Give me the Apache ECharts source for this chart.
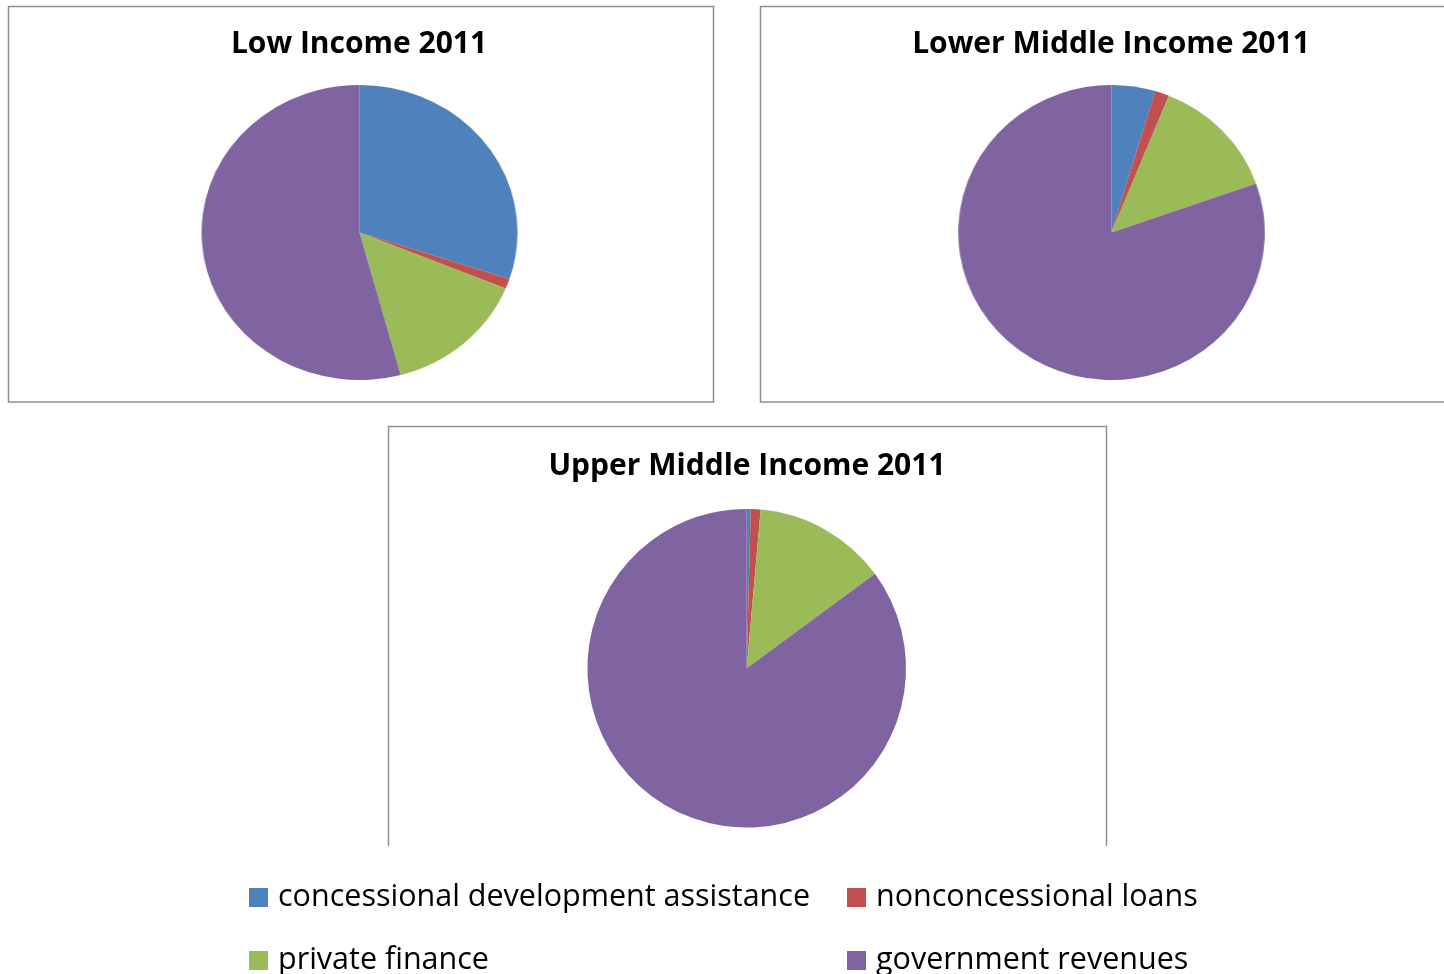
<!DOCTYPE html>
<html>
<head>
<meta charset="utf-8">
<script src="https://cdn.jsdelivr.net/npm/echarts@6/dist/echarts.min.js"></script>
<style>
  html, body { margin: 0; padding: 0; background: #fff; }
  #main { position: absolute; left: 0; top: 0; width: 1444px; height: 974px; }
  .pie { position: absolute; pointer-events: none; }
</style>
</head>
<body>
<div id="main"></div>
<div id="pieLow" class="pie"></div>
<div id="pieLowerMid" class="pie"></div>

<script>
// Sources of development finance, share of total (%), 2011
const categories = [
  'concessional development assistance',
  'nonconcessional loans',
  'private finance',
  'government revenues'
];
const lowIncome = [30.1, 1.1, 14.6, 54.2];
const lowerMiddleIncome = [4.6, 1.5, 13.5, 80.4];
const upperMiddleIncome = [0.4, 1.0, 13.5, 85.1];
const panelTitles = ['Low Income 2011', 'Lower Middle Income 2011', 'Upper Middle Income 2011'];

const palette = ['#4F81BD', '#C0504D', '#9BBB59', '#8064A2'];
const FONT = '"Open Sans", Lato, sans-serif';
const FRAME = '#8f8f8f';

function pieData(values) {
  return categories.map((name, i) => ({ name: name, value: values[i] }));
}

function pieSeries(values, center, radius) {
  return {
    type: 'pie',
    center: center,
    radius: radius,
    startAngle: 90,
    clockwise: true,
    silent: true,
    animation: false,
    label: { show: false },
    labelLine: { show: false },
    itemStyle: { borderWidth: 0 },
    data: pieData(values)
  };
}

// Place a standalone pie in its own layer; the frame stretches it a little wider than tall
function placePie(id, cx, cy, ry, rx, values) {
  const size = Math.ceil(ry * 2 + 8);
  const el = document.getElementById(id);
  el.style.width = size + 'px';
  el.style.height = size + 'px';
  el.style.left = (cx - size / 2) + 'px';
  el.style.top = (cy - size / 2) + 'px';
  el.style.transform = 'scaleX(' + (rx / ry) + ')';
  el.style.transformOrigin = '50% 50%';
  const c = echarts.init(el, null, { renderer: 'canvas' });
  c.setOption({ color: palette, series: [pieSeries(values, ['50%', '50%'], ry)] });
}

placePie('pieLow', 359.7, 232.7, 147.5, 158, lowIncome);
placePie('pieLowerMid', 1111, 232.7, 147.5, 153.3, lowerMiddleIncome);

const legendPos = [
  { left: 249, top: 882 },
  { left: 847, top: 882 },
  { left: 249, top: 945 },
  { left: 847, top: 945 }
];

const main = echarts.init(document.getElementById('main'), null, { renderer: 'canvas' });
main.setOption({
  color: palette,
  animation: false,
  title: [
    { text: panelTitles[0], left: 359, top: 28, textAlign: 'center' },
    { text: panelTitles[1], left: 1111, top: 28, textAlign: 'center' },
    { text: panelTitles[2], left: 747, top: 450, textAlign: 'center' }
  ].map(t => Object.assign(t, {
    padding: 0,
    textStyle: { fontFamily: FONT, fontWeight: 'bold', fontSize: 30, color: '#000', lineHeight: 32 }
  })),
  legend: categories.map((name, i) => ({
    data: [{ name: name, icon: 'rect' }],
    left: legendPos[i].left,
    top: legendPos[i].top,
    padding: 0,
    itemWidth: 19,
    itemHeight: 19,
    selectedMode: false,
    textStyle: { fontFamily: FONT, fontSize: 30.5, color: '#000', padding: [0, 0, 5, 5], lineHeight: 19 }
  })),
  graphic: [
    { type: 'rect', shape: { x: 8.5, y: 6.5, width: 705, height: 395.5 },
      style: { fill: 'none', stroke: FRAME, lineWidth: 1.5 } },
    { type: 'rect', shape: { x: 760.5, y: 6.5, width: 700, height: 395.5 },
      style: { fill: 'none', stroke: FRAME, lineWidth: 1.5 } },
    { type: 'polyline', shape: { points: [[388.5, 846], [388.5, 426.5], [1106.5, 426.5], [1106.5, 846]] },
      style: { fill: 'none', stroke: FRAME, lineWidth: 1.5 } }
  ],
  series: [pieSeries(upperMiddleIncome, [746.7, 668.3], 159.3)]
});
</script>
</body>
</html>
